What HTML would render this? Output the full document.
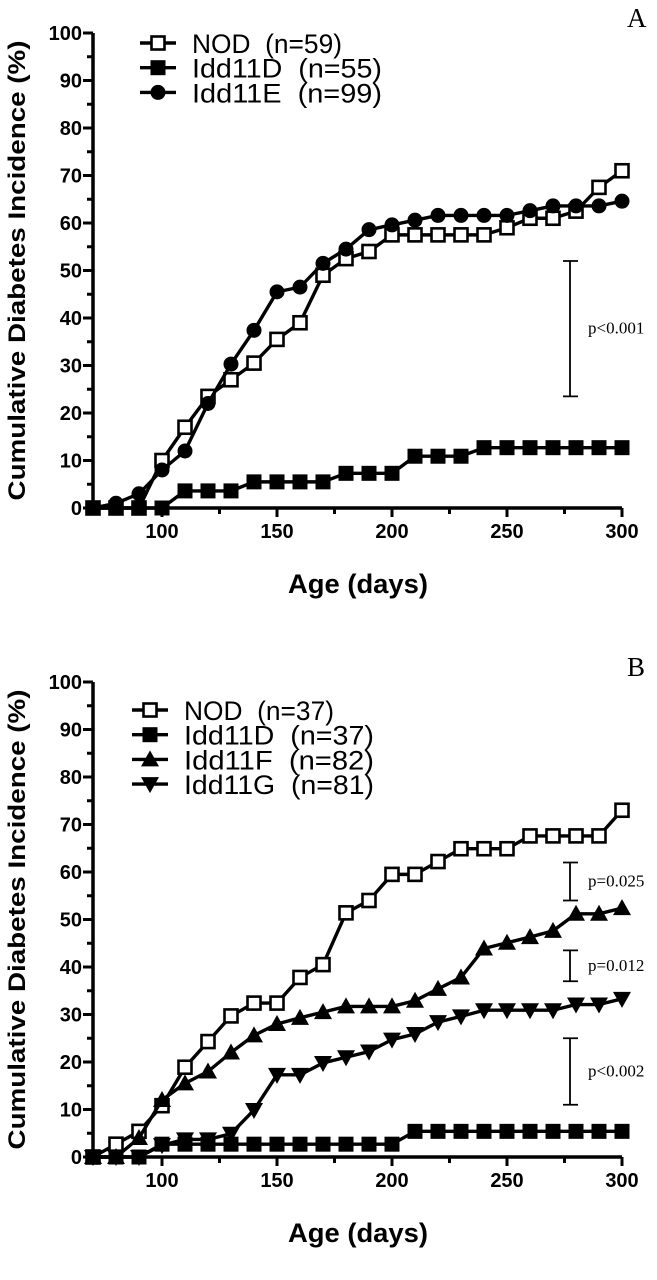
<!DOCTYPE html>
<html><head><meta charset="utf-8"><style>
html,body{margin:0;padding:0;background:#fff;}
svg{display:block;}
.tick{font:bold 20px "Liberation Sans",sans-serif;}
.leg{font:27px "Liberation Sans",sans-serif;}
.pv{font:17px "Liberation Serif",serif;}
</style></head><body>
<svg id="chart" width="657" height="1280" viewBox="0 0 657 1280" xmlns="http://www.w3.org/2000/svg"></svg>
<script>
const days = [70,80,90,100,110,120,130,140,150,160,170,180,190,200,210,220,230,240,250,260,270,280,290,300];
const xTicks = [100,150,200,250,300];
const yTicks = [0,10,20,30,40,50,60,70,80,90,100];
// Panel A
const aNOD   = [0,0,0,10,17,23.5,27,30.5,35.5,39,49,52.5,54,57.5,57.5,57.5,57.5,57.5,59,61,61,62.5,67.5,71];
const aIdd11D= [0,0,0,0,3.6,3.6,3.6,5.5,5.5,5.5,5.5,7.3,7.3,7.3,10.9,10.9,10.9,12.7,12.7,12.7,12.7,12.7,12.7,12.7];
const aIdd11E= [0,1,3,8,12,22,30.3,37.4,45.5,46.5,51.5,54.5,58.6,59.6,60.6,61.6,61.6,61.6,61.6,62.6,63.6,63.6,63.6,64.6];
const aLegend = ["NOD\u00a0\u00a0(n=59)","Idd11D\u00a0\u00a0(n=55)","Idd11E\u00a0\u00a0(n=99)"];
const aP = [{lo:23.5,hi:52,label:"p<0.001"}];
// Panel B
const bNOD   = [0,2.7,5.4,10.8,18.9,24.3,29.7,32.4,32.4,37.8,40.5,51.4,54,59.5,59.5,62.2,64.9,64.9,64.9,67.6,67.6,67.6,67.6,73];
const bIdd11D= [0,0,0,2.7,2.7,2.7,2.7,2.7,2.7,2.7,2.7,2.7,2.7,2.7,5.4,5.4,5.4,5.4,5.4,5.4,5.4,5.4,5.4,5.4];
const bIdd11F= [0,0,4,12,15.5,18,22,25.6,28,29.3,30.5,31.7,31.7,31.7,32.9,35.4,37.8,43.9,45.1,46.3,47.6,51.2,51.2,52.4];
const bIdd11G= [0,0,0,2.5,3.7,3.7,4.9,9.9,17.3,17.3,19.8,21,22.2,24.7,25.9,28.4,29.6,30.9,30.9,30.9,30.9,32.1,32.1,33.3];
const bLegend = ["NOD\u00a0\u00a0(n=37)","Idd11D\u00a0\u00a0(n=37)","Idd11F\u00a0\u00a0(n=82)","Idd11G\u00a0\u00a0(n=81)"];
const bP = [{lo:54,hi:62,label:"p=0.025"},{lo:37,hi:43.5,label:"p=0.012"},{lo:11,hi:25,label:"p<0.002"}];

const NS="http://www.w3.org/2000/svg";
const svg=document.getElementById('chart');
function mk(tag,attrs,parent){const e=document.createElementNS(NS,tag);for(const k in attrs)e.setAttribute(k,attrs[k]);(parent||svg).appendChild(e);return e;}

function marker(g,type,x,y){
  let m;
  if(type==='sqo'){m=mk('rect',{x:x-6.5,y:y-6.5,width:13,height:13,fill:'#fff',stroke:'#000','stroke-width':2.6},g);}
  else if(type==='sqf'){m=mk('rect',{x:x-7.5,y:y-7.5,width:15,height:15,fill:'#000'},g);}
  else if(type==='circ'){m=mk('circle',{cx:x,cy:y,r:7.5,fill:'#000'},g);}
  else if(type==='tri'){m=mk('polygon',{points:`${x},${y-9} ${x-9},${y+7} ${x+9},${y+7}`,fill:'#000'},g);}
  else {m=mk('polygon',{points:`${x},${y+9} ${x-9},${y-7} ${x+9},${y-7}`,fill:'#000'},g);}
  
  
}

function panel(opt){
  const y0=opt.y0;
  const X=d=>93+(d-70)*2.3;
  const Y=v=>y0-v*4.75;
  const g=mk('g',{});
  
  
  const ax=mk('path',{d:`M${X(70)},${Y(100)} V${Y(0)} H${X(300)}`,stroke:'#000','stroke-width':3.5,fill:'none'},g);
  
  
  for(let v=0;v<=100;v+=5){mk('line',{x1:X(70)-(v%10===0?10:6),x2:X(70),y1:Y(v),y2:Y(v),stroke:'#000','stroke-width':3},g);}
  yTicks.forEach(v=>{const t=mk('text',{x:X(70)-11,y:Y(v)+7,'text-anchor':'end',class:'tick'},g);t.textContent=v;
    });
  for(let d=100;d<=300;d+=25){mk('line',{x1:X(d),x2:X(d),y1:Y(0),y2:Y(0)+(d%50===0?9:6),stroke:'#000','stroke-width':3},g);}
  xTicks.forEach(d=>{const t=mk('text',{x:X(d),y:Y(0)+30,'text-anchor':'middle',class:'tick'},g);t.textContent=d;
    });
  const yt=mk('text',{x:0,y:0,transform:`translate(25,${Y(50)}) rotate(-90)`,'text-anchor':'middle',textLength:460,lengthAdjust:'spacingAndGlyphs',style:'font:bold 24px "Liberation Sans",sans-serif'},g);
  yt.textContent='Cumulative Diabetes Incidence (%)';
  
  const xt=mk('text',{x:358,y:Y(0)+85,'text-anchor':'middle',textLength:140,lengthAdjust:'spacingAndGlyphs',style:'font:bold 27px "Liberation Sans",sans-serif'},g);
  xt.textContent='Age (days)';
  
  const pl=mk('text',{x:627,y:opt.letterY,style:'font:27px "Liberation Serif",serif'},g);
  pl.textContent=opt.letter;
  
  opt.series.forEach(s=>{
    const sg=mk('g',{},g);
    
    
    const ln=mk('polyline',{points:days.map((d,i)=>X(d)+','+Y(s.vals[i])).join(' '),fill:'none',stroke:'#000','stroke-width':3.4,'stroke-linejoin':'round'},sg);
    
    days.forEach((d,i)=>marker(sg,s.m,X(d),Y(s.vals[i])));
  });
  opt.legend.forEach((lab,i)=>{
    const ly=opt.legY+i*24.7;
    const lg=mk('g',{},g);
    
    
    mk('line',{x1:opt.legX,x2:opt.legX+36,y1:ly,y2:ly,stroke:'#000','stroke-width':3.4},lg);
    marker(lg,opt.series[i].m,opt.legX+18,ly);
    const t=mk('text',{x:opt.legX+52,y:ly+10,class:'leg',textLength:(i===0?150:190),lengthAdjust:'spacingAndGlyphs'},lg);t.textContent=lab;
  });
  opt.p.forEach(p=>{
    const bg=mk('g',{},g);
    
    
    mk('path',{d:`M563,${Y(p.hi)} H578 M570,${Y(p.hi)} V${Y(p.lo)} M563,${Y(p.lo)} H578`,stroke:'#000','stroke-width':1.8,fill:'none'},bg);
    const t=mk('text',{x:588,y:(Y(p.hi)+Y(p.lo))/2+5,class:'pv'},bg);t.textContent=p.label;
  });
}

panel({name:'panel-a',y0:508,letter:'A',letterY:27,legX:140,legY:43,legend:aLegend,p:aP,
  series:[{key:'nod',vals:aNOD,m:'sqo'},{key:'idd11d',vals:aIdd11D,m:'sqf'},{key:'idd11e',vals:aIdd11E,m:'circ'}]});
panel({name:'panel-b',y0:1157,letter:'B',letterY:676,legX:132,legY:710,legend:bLegend,p:bP,
  series:[{key:'nod',vals:bNOD,m:'sqo'},{key:'idd11d',vals:bIdd11D,m:'sqf'},{key:'idd11f',vals:bIdd11F,m:'tri'},{key:'idd11g',vals:bIdd11G,m:'inv'}]});
</script>
</body></html>
